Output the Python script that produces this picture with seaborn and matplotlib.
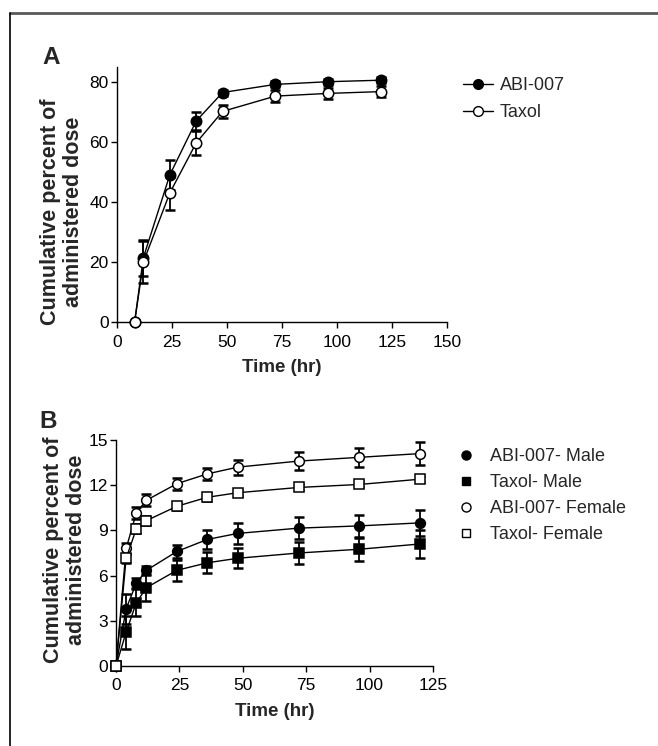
import matplotlib
matplotlib.use("Agg")
import matplotlib.pyplot as plt
from matplotlib.lines import Line2D
import seaborn as sns
import pandas as pd

# ---------------- data ----------------
# Panel A
a_time = [8, 12, 24, 36, 48, 72, 96, 120]
a_abi = [0, 21.5, 49, 67, 76.5, 79.2, 80.1, 80.6]
a_abi_err = [0, 6, 5, 3, 1, 1, 1, 1]
a_taxol = [0, 20, 43, 59.7, 70.2, 75.3, 76.2, 76.8]
a_taxol_err = [0, 7, 5.5, 4, 2.2, 2, 1.9, 1.9]
a_labels = ["ABI-007", "Taxol"]

# Panel B
b_time = [0, 4, 8, 12, 24, 36, 48, 72, 96, 120]
abi_m = [0, 3.8, 5.5, 6.35, 7.6, 8.4, 8.8, 9.15, 9.3, 9.5]
abi_m_err = [0, 1.0, 0.35, 0.3, 0.45, 0.65, 0.7, 0.75, 0.75, 0.85]
tax_m = [0, 2.25, 4.2, 5.2, 6.35, 6.85, 7.15, 7.5, 7.75, 8.1]
tax_m_err = [0, 1.1, 0.9, 0.9, 0.7, 0.7, 0.65, 0.75, 0.75, 0.9]
abi_f = [0, 7.8, 10.15, 11.0, 12.1, 12.75, 13.2, 13.6, 13.85, 14.1]
abi_f_err = [0, 0.35, 0.4, 0.4, 0.4, 0.4, 0.5, 0.6, 0.65, 0.75]
tax_f = [0, 7.15, 9.1, 9.65, 10.6, 11.2, 11.5, 11.85, 12.05, 12.4]
tax_f_err = [0, 0.3, 0.3, 0.3, 0.25, 0.25, 0.2, 0.2, 0.2, 0.2]
b_labels = ["ABI-007- Male", "Taxol- Male", "ABI-007- Female", "Taxol- Female"]

a_xticks = [0, 25, 50, 75, 100, 125, 150]
a_yticks = [0, 20, 40, 60, 80]
b_xticks = [0, 25, 50, 75, 100, 125]
b_yticks = [0, 3, 6, 9, 12, 15]

# ---------------- style ----------------
sns.set_theme(style="ticks")
plt.rcParams["font.family"] = ["Liberation Sans", "DejaVu Sans"]
plt.rcParams["axes.linewidth"] = 1.0
plt.rcParams["xtick.major.width"] = 1.0
plt.rcParams["ytick.major.width"] = 1.0
plt.rcParams["xtick.major.size"] = 4.5
plt.rcParams["ytick.major.size"] = 4.5

W, H = 658, 746
fig = plt.figure(figsize=(W / 100, H / 100), dpi=100)

def px_axes(left, top, right, bottom):
    return fig.add_axes([left / W, 1 - bottom / H, (right - left) / W, (bottom - top) / H])

axA = px_axes(117, 67, 447, 322)
axB = px_axes(116, 440, 433, 666)

TICK_FS = 12.5
XLAB_FS = 13.5
YLAB_FS = 15.5
LEG_FS = 13

def draw_series(ax, t, y, err, marker, filled, label, ms):
    ax.errorbar(t, y, yerr=err, fmt="none", ecolor="black", elinewidth=1.3,
                capsize=3.6, capthick=1.8, zorder=2, clip_on=False)
    df = pd.DataFrame({"t": t, "y": y})
    sns.lineplot(data=df, x="t", y="y", ax=ax, estimator=None, sort=True,
                 color="black", linewidth=1.0, marker=marker, markersize=ms,
                 markerfacecolor=("black" if filled else "white"),
                 markeredgecolor="black", markeredgewidth=1.1,
                 label=label, zorder=3, clip_on=False, legend=False)

# ---------------- Panel A ----------------
draw_series(axA, a_time, a_abi, a_abi_err, "o", True, a_labels[0], 7.5)
draw_series(axA, a_time, a_taxol, a_taxol_err, "o", False, a_labels[1], 7.5)
axA.set_xlim(0, 150)
axA.set_ylim(0, 85)
axA.set_xticks(a_xticks)
axA.set_yticks(a_yticks)

# ---------------- Panel B ----------------
draw_series(axB, b_time, abi_m, abi_m_err, "o", True, b_labels[0], 7)
draw_series(axB, b_time, tax_m, tax_m_err, "s", True, b_labels[1], 6.5)
draw_series(axB, b_time, abi_f, abi_f_err, "o", False, b_labels[2], 7)
draw_series(axB, b_time, tax_f, tax_f_err, "s", False, b_labels[3], 6.5)
axB.set_xlim(0, 125)
axB.set_ylim(0, 15)
axB.set_xticks(b_xticks)
axB.set_yticks(b_yticks)

for ax in (axA, axB):
    sns.despine(ax=ax)
    ax.tick_params(axis="both", labelsize=TICK_FS, colors="black", direction="out")
    ax.tick_params(axis="y", pad=1.5)
    ax.tick_params(axis="x", pad=4.5)
    ax.set_xlabel("Time (hr)", fontsize=XLAB_FS, fontweight="bold", labelpad=7)
    ax.set_ylabel("Cumulative percent of\nadministered dose", fontsize=YLAB_FS,
                  fontweight="bold", linespacing=1.1)
    ax.yaxis.label.set_verticalalignment("center")
    for s in ax.spines.values():
        s.set_color("black")

axA.yaxis.set_label_coords((62 - 117) / 330, (322 - 212) / 255)
axB.yaxis.set_label_coords((65 - 116) / 317, (666 - 550) / 226)

# Panel letters
fig.text(51 / W, 1 - 57 / H, "A", fontsize=17.5, fontweight="bold", ha="center", va="center")
fig.text(48 / W, 1 - 421 / H, "B", fontsize=17.5, fontweight="bold", ha="center", va="center")

# Legend A
hA = [Line2D([], [], color="black", lw=1.0, marker="o", ms=7, mfc="black", mec="black"),
      Line2D([], [], color="black", lw=1.0, marker="o", ms=7, mfc="white", mec="black")]
fig.legend(hA, a_labels, loc="upper left", bbox_to_anchor=(463 / W, 1 - 77 / H),
           frameon=False, fontsize=LEG_FS, handlelength=1.66, handletextpad=0.39,
           labelspacing=0.55, borderpad=0, borderaxespad=0)

# Legend B
hB = [Line2D([], [], ls="none", marker="o", ms=6.5, mfc="black", mec="black"),
      Line2D([], [], ls="none", marker="s", ms=6, mfc="black", mec="black"),
      Line2D([], [], ls="none", marker="o", ms=6.5, mfc="white", mec="black", mew=1.0),
      Line2D([], [], ls="none", marker="s", ms=6, mfc="white", mec="black", mew=1.0)]
fig.legend(hB, b_labels, loc="upper left", bbox_to_anchor=(457 / W, 1 - 448 / H),
           frameon=False, fontsize=LEG_FS, handlelength=1.0, handletextpad=0.83,
           labelspacing=0.5, borderpad=0, borderaxespad=0)

# Figure frame lines (top and left)
fig.add_artist(Line2D([9.5 / W, 1.0], [1 - 12.5 / H, 1 - 12.5 / H], transform=fig.transFigure,
                      color="#5a5a5a", lw=2.0))
fig.add_artist(Line2D([9.5 / W, 9.5 / W], [0, 1 - 12.5 / H], transform=fig.transFigure,
                      color="black", lw=1.2))

fig.savefig("out.png", dpi=100)
